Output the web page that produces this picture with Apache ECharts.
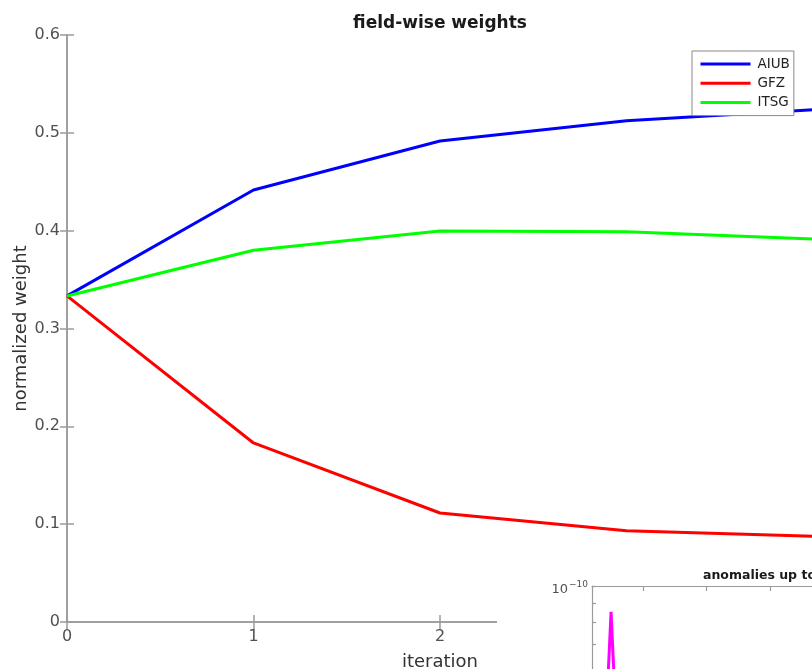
<!DOCTYPE html>
<html>
<head>
<meta charset="utf-8">
<script src="https://cdn.jsdelivr.net/npm/echarts@6/dist/echarts.min.js"></script>
<style>
  html, body { margin: 0; padding: 0; background: #fff; overflow: hidden; }
  #c { width: 900px; height: 1000px; }
</style>
</head>
<body>
<div id="c"></div>
<script>
// Field-wise weights per iteration
const iterations = [0, 1, 2, 3, 4];
const aiub = [0.3333, 0.4416, 0.4917, 0.5124, 0.5237];
const gfz  = [0.3333, 0.1830, 0.1114, 0.0933, 0.0876];
const itsg = [0.3333, 0.3800, 0.3997, 0.3990, 0.3915];
const seriesNames = ['AIUB', 'GFZ', 'ITSG'];

// Inset: anomalies by degree
const insetDegree  = [8, 9, 10, 11, 12];
const insetAnomaly = [2e-11, 5.6e-11, 8.55e-11, 5.6e-11, 2e-11];
const insetXTicks = [20, 40, 60, 80, 100];
const insetYTicks = [1e-10, 9e-11, 8e-11, 7e-11, 6e-11, 5e-11, 4e-11, 3e-11, 2e-11];

const axisGray = '#9a9a9a';
const labelGray = '#505050';
const font = 'DejaVu Sans, Verdana, sans-serif';

const pairs = (xs, ys) => xs.map((x, i) => [x, ys[i]]);

const chart = echarts.init(document.getElementById('c'), null, { renderer: 'canvas' });

const lineStyleAxis = { show: true, lineStyle: { color: axisGray, width: 1.5 } };
const tickStyle = { show: true, inside: true, length: 7, lineStyle: { color: axisGray, width: 1.5 } };

chart.setOption({
  animation: false,
  backgroundColor: '#fff',
  textStyle: { fontFamily: font },
  title: {
    text: 'field-wise weights',
    left: 435, top: 10, textAlign: 'center',
    textStyle: { fontSize: 17, fontWeight: 'bold', color: '#1a1a1a', fontFamily: font }
  },
  legend: {
    data: seriesNames,
    orient: 'vertical',
    left: 692, top: 51,
    icon: 'rect',
    itemWidth: 50, itemHeight: 3,
    itemGap: 3.3,
    padding: [5, 4, 5, 8.5],
    backgroundColor: '#fff',
    borderColor: '#8a8a8a', borderWidth: 1,
    textStyle: { fontSize: 13.5, color: '#222', lineHeight: 16, padding: [0, 0, 0, 2], fontFamily: font }
  },
  grid: [
    { left: 67, top: 35, width: 746, height: 587, outerBoundsMode: 'none', containLabel: false },
    { left: 592, top: 586, width: 305, height: 378, outerBoundsMode: 'none', containLabel: false }
  ],
  xAxis: [
    {
      gridIndex: 0, type: 'value', min: 0, max: 4, interval: 1, position: 'bottom',
      axisLine: lineStyleAxis, axisTick: tickStyle,
      axisLabel: { color: labelGray, fontSize: 16, margin: 7, fontFamily: font },
      splitLine: { show: false },
      name: 'iteration', nameLocation: 'middle', nameGap: 31,
      nameTextStyle: { fontSize: 18, color: '#333', fontFamily: font }
    },
    {
      gridIndex: 0, type: 'value', min: 0, max: 4, interval: 1, position: 'top',
      axisLine: lineStyleAxis, axisTick: tickStyle,
      axisLabel: { show: false }, splitLine: { show: false }
    },
    {
      gridIndex: 1, type: 'value', min: 4, max: 100, position: 'top', z: 20,
      axisLine: { show: true, lineStyle: { color: axisGray, width: 1.2 } },
      axisTick: { show: true, inside: true, length: 5, customValues: insetXTicks, lineStyle: { color: axisGray, width: 1.2 } },
      axisLabel: { show: false }, splitLine: { show: false }
    }
  ],
  yAxis: [
    {
      gridIndex: 0, type: 'value', min: 0, max: 0.6, interval: 0.1, position: 'left',
      axisLine: lineStyleAxis, axisTick: tickStyle,
      axisLabel: {
        color: labelGray, fontSize: 16, margin: 7, fontFamily: font,
        formatter: v => (v === 0 ? '0' : v.toFixed(1))
      },
      splitLine: { show: false },
      name: 'normalized weight', nameLocation: 'middle', nameGap: 37, nameRotate: 90,
      nameMoveOverlap: false,
      nameTextStyle: { fontSize: 18, color: '#333', fontFamily: font }
    },
    {
      gridIndex: 0, type: 'value', min: 0, max: 0.6, interval: 0.1, position: 'right',
      axisLine: lineStyleAxis, axisTick: tickStyle,
      axisLabel: { show: false }, splitLine: { show: false }
    },
    {
      gridIndex: 1, type: 'log', min: 1e-11, max: 1e-10, position: 'left', z: 20,
      axisLine: { show: true, lineStyle: { color: axisGray, width: 1.2 } },
      axisTick: { show: true, inside: true, length: 4, customValues: insetYTicks, lineStyle: { color: axisGray, width: 1.2 } },
      axisLabel: {
        show: true, margin: 4, customValues: [1e-10],
        formatter: () => '{a|10}{b|−10}',
        rich: {
          a: { fontSize: 13, color: labelGray, fontFamily: font, padding: [8, 0, 0, 0] },
          b: { fontSize: 9, color: labelGray, fontFamily: font, padding: [0, 0, 3, 1] }
        }
      },
      splitLine: { show: false }, minorTick: { show: false }
    }
  ],
  graphic: [
    { type: 'rect', z: 10, shape: { x: 497, y: 566, width: 420, height: 200 }, style: { fill: '#fff' } },
    {
      type: 'text', z: 30, x: 703, y: 569,
      style: { text: 'anomalies up to', fill: '#1a1a1a', font: 'bold 12.5px ' + font }
    }
  ],
  series: [
    { name: 'AIUB', type: 'line', xAxisIndex: 0, yAxisIndex: 0, data: pairs(iterations, aiub),
      symbol: 'none', lineStyle: { width: 3, color: '#0000ff' }, itemStyle: { color: '#0000ff' } },
    { name: 'GFZ', type: 'line', xAxisIndex: 0, yAxisIndex: 0, data: pairs(iterations, gfz),
      symbol: 'none', lineStyle: { width: 3, color: '#ff0000' }, itemStyle: { color: '#ff0000' } },
    { name: 'ITSG', type: 'line', xAxisIndex: 0, yAxisIndex: 0, data: pairs(iterations, itsg),
      symbol: 'none', lineStyle: { width: 3, color: '#00ff00' }, itemStyle: { color: '#00ff00' } },
    { name: 'anomaly', type: 'line', xAxisIndex: 2, yAxisIndex: 2, z: 20, data: pairs(insetDegree, insetAnomaly),
      symbol: 'none', lineStyle: { width: 3, color: '#ff00ff' }, itemStyle: { color: '#ff00ff' } }
  ]
});
</script>
</body>
</html>
